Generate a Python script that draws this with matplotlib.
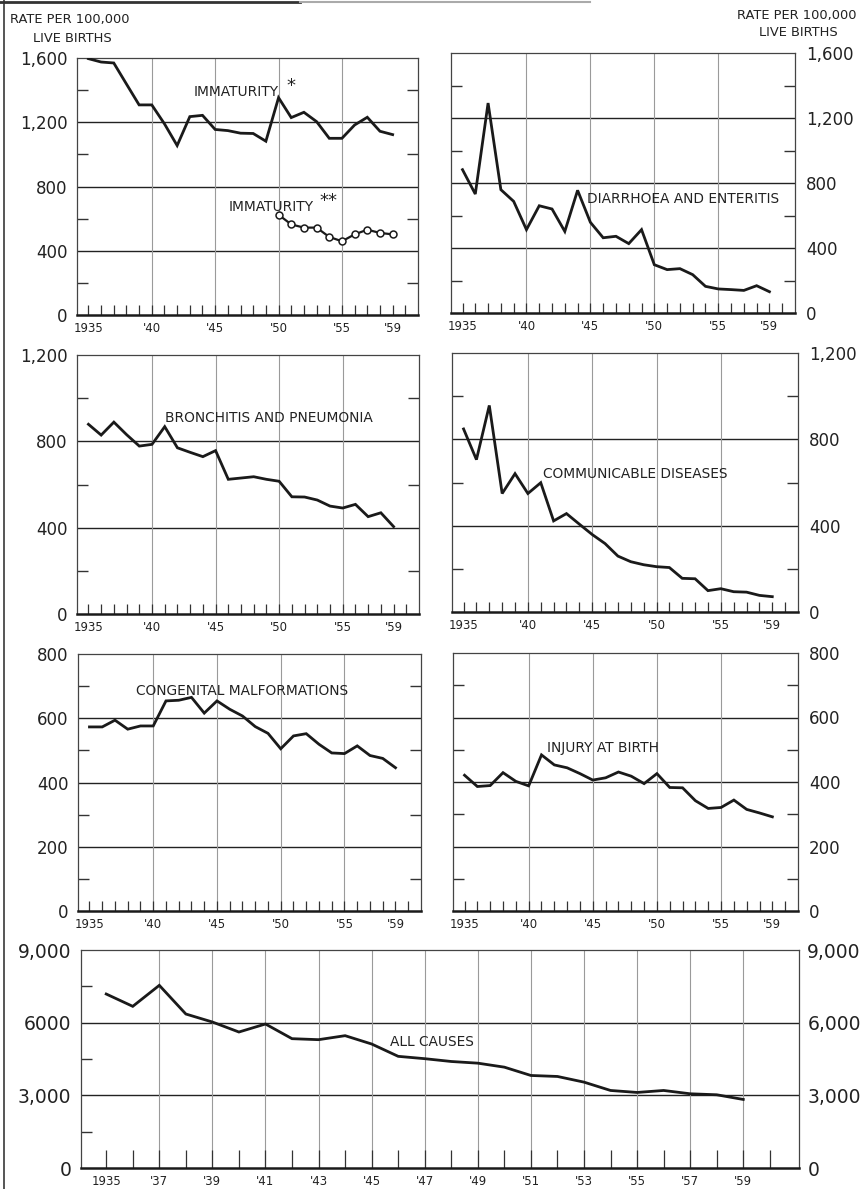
import matplotlib
matplotlib.use('Agg')
import matplotlib.pyplot as plt
from matplotlib.lines import Line2D

# ---------------- data ----------------
years = list(range(1935, 1960))
years_imm2 = list(range(1950, 1960))

immaturity = [1596, 1575, 1569, 1438, 1308, 1308, 1190, 1055, 1235, 1243, 1155, 1148, 1132,
              1130, 1082, 1353, 1229, 1262, 1204, 1100, 1100, 1183, 1231, 1144, 1123]
immaturity2 = [624, 564, 544, 544, 486, 459, 502, 531, 511, 502]
diarrhoea = [882, 732, 1292, 759, 687, 513, 660, 640, 502, 755, 558, 463, 472, 427, 513,
             297, 267, 273, 236, 164, 148, 144, 139, 168, 131]
bronchitis = [879, 829, 889, 831, 778, 786, 868, 770, 749, 729, 757, 624, 630, 636, 624,
              615, 543, 542, 528, 500, 491, 508, 451, 469, 405]
communicable = [848, 706, 957, 549, 641, 549, 599, 422, 456, 407, 359, 317, 259, 233, 219,
                210, 206, 156, 154, 99, 108, 94, 92, 77, 71]
congenital = [573, 573, 594, 566, 576, 576, 654, 656, 665, 616, 654, 628, 607, 574, 553,
              505, 545, 552, 519, 492, 490, 514, 484, 475, 446]
injury = [421, 386, 389, 429, 402, 388, 484, 453, 444, 426, 406, 413, 431, 418, 395,
          426, 383, 382, 342, 318, 321, 344, 315, 304, 292]
all_causes = [7183, 6674, 7541, 6357, 6027, 5614, 5945, 5339, 5298, 5463, 5119, 4610, 4513,
              4397, 4328, 4163, 3820, 3779, 3545, 3201, 3119, 3201, 3064, 3023, 2830]

xtick_years_small = [1935, 1940, 1945, 1950, 1955, 1959]
xtick_labels_small = ["1935", "'40", "'45", "'50", "'55", "'59"]
xtick_years_big = list(range(1935, 1960, 2))
xtick_labels_big = ["1935"] + ["'%02d" % (y % 100) for y in range(1937, 1960, 2)]

ticks_1600 = [0, 400, 800, 1200, 1600]
labels_1600 = ["0", "400", "800", "1,200", "1,600"]
ticks_1200 = [0, 400, 800, 1200]
labels_1200 = ["0", "400", "800", "1,200"]
ticks_800 = [0, 200, 400, 600, 800]
labels_800 = ["0", "200", "400", "600", "800"]
ticks_9000 = [0, 3000, 6000, 9000]
labels_9000_left = ["0", "3,000", "6000", "9,000"]
labels_9000_right = ["0", "3,000", "6,000", "9,000"]

# ---------------- figure ----------------
W, H = 863, 1189
fig = plt.figure(figsize=(W / 100, H / 100), dpi=100)
fig.patch.set_facecolor('white')

INK = '#1a1a1a'
FONT = 'DejaVu Sans'


def add_axes_px(x0, y0, x1, y1):
    return fig.add_axes([x0 / W, 1 - y1 / H, (x1 - x0) / W, (y1 - y0) / H])


def style_panel(ax, yticks, ylabels, ymax, minor_step, side, xlim,
                xt, xl, vgrid, tick_len, ylab_size):
    ax.set_xlim(*xlim)
    ax.set_ylim(0, ymax)
    for s in ['top', 'left', 'right']:
        ax.spines[s].set_color('#444444')
        ax.spines[s].set_linewidth(0.9)
    ax.spines['bottom'].set_color(INK)
    ax.spines['bottom'].set_linewidth(1.8)
    for v in yticks[1:-1]:
        ax.axhline(v, color='#222222', lw=1.0, zorder=1)
    for yv in vgrid:
        ax.axvline(yv, color='#9a9a9a', lw=0.8, zorder=1)
    ax.set_yticks(yticks)
    ax.set_yticklabels(ylabels, fontsize=ylab_size, color='#222222', family=FONT)
    ax.set_yticks([v + minor_step for v in yticks[:-1]], minor=True)
    ax.tick_params(axis='y', which='major', length=0, pad=7)
    ax.tick_params(axis='y', which='minor', direction='in', length=8, width=1.0,
                   color='#333333', left=True, right=True)
    if side == 'right':
        ax.tick_params(axis='y', which='major', labelleft=False, labelright=True,
                       left=False, right=False, pad=8)
    ax.set_xticks(xt)
    ax.set_xticklabels(xl, fontsize=8.5, color='#222222', family=FONT)
    ax.tick_params(axis='x', which='major', direction='in', length=tick_len, width=0.9,
                   color='#333333', pad=5)
    ax.tick_params(axis='x', which='minor', direction='in', length=tick_len, width=0.9,
                   color='#333333')


small_xlim = (1934.1, 1961.0)
minor_years = list(range(1935, 1961))
small_vgrid = [1940, 1945, 1950, 1955]

LINE_KW = dict(color=INK, lw=2.0, solid_joinstyle='miter', zorder=3)
LAB_KW = dict(fontsize=9.9, color='#222222', family=FONT, ha='left', va='center', zorder=4)
STAR_KW = dict(fontsize=13, color='#222222', family=FONT, ha='left', va='center')

# Panel 1: Immaturity
ax1 = add_axes_px(77, 58, 418, 315)
style_panel(ax1, ticks_1600, labels_1600, 1600, 200, 'left', small_xlim,
            xtick_years_small, xtick_labels_small, small_vgrid, 7, 12)
ax1.set_xticks(minor_years, minor=True)
ax1.plot(years, immaturity, **LINE_KW)
ax1.plot(years_imm2, immaturity2, color=INK, lw=1.6, marker='o', ms=5,
         markerfacecolor='white', markeredgecolor=INK, markeredgewidth=1.1, zorder=3)
ax1.text(1943.3, 1390, "IMMATURITY", **LAB_KW)
ax1.text(1950.6, 1428, "*", **STAR_KW)
ax1.text(1946.1, 673, "IMMATURITY", **LAB_KW)
ax1.text(1953.25, 710, "**", **STAR_KW)

# Panel 2: Diarrhoea
ax2 = add_axes_px(451, 53, 795, 313)
style_panel(ax2, ticks_1600, labels_1600, 1600, 200, 'right', small_xlim,
            xtick_years_small, xtick_labels_small, small_vgrid, 7, 12)
ax2.set_xticks(minor_years, minor=True)
ax2.plot(years, diarrhoea, **LINE_KW)
ax2.text(1944.7, 702, "DIARRHOEA AND ENTERITIS", **LAB_KW)

# Panel 3: Bronchitis
ax3 = add_axes_px(77, 355, 419, 614)
style_panel(ax3, ticks_1200, labels_1200, 1200, 200, 'left', small_xlim,
            xtick_years_small, xtick_labels_small, small_vgrid, 7, 12)
ax3.set_xticks(minor_years, minor=True)
ax3.plot(years, bronchitis, **LINE_KW)
ax3.text(1941.05, 908, "BRONCHITIS AND PNEUMONIA", **LAB_KW)

# Panel 4: Communicable
ax4 = add_axes_px(452, 353, 798, 612)
style_panel(ax4, ticks_1200, labels_1200, 1200, 200, 'right', small_xlim,
            xtick_years_small, xtick_labels_small, small_vgrid, 7, 12)
ax4.set_xticks(minor_years, minor=True)
ax4.plot(years, communicable, **LINE_KW)
ax4.text(1941.2, 639, "COMMUNICABLE DISEASES", **LAB_KW)

# Panel 5: Congenital
ax5 = add_axes_px(78, 654, 421, 911)
style_panel(ax5, ticks_800, labels_800, 800, 100, 'left', small_xlim,
            xtick_years_small, xtick_labels_small, small_vgrid, 7, 12)
ax5.set_xticks(minor_years, minor=True)
ax5.plot(years, congenital, **LINE_KW)
ax5.text(1938.65, 685, "CONGENITAL MALFORMATIONS", **LAB_KW)

# Panel 6: Injury at birth
ax6 = add_axes_px(453, 653, 798, 911)
style_panel(ax6, ticks_800, labels_800, 800, 100, 'right', small_xlim,
            xtick_years_small, xtick_labels_small, small_vgrid, 7, 12)
ax6.set_xticks(minor_years, minor=True)
ax6.plot(years, injury, **LINE_KW)
ax6.text(1941.4, 505, "INJURY AT BIRTH", **LAB_KW)

# Panel 7: All causes (labels on both sides)
ax7 = add_axes_px(81, 950, 799, 1168)
style_panel(ax7, ticks_9000, labels_9000_left, 9000, 1500, 'left', (1934.05, 1961.1),
            xtick_years_big, xtick_labels_big, list(range(1937, 1960, 2)), 13, 13.5)
ax7.set_xticks(list(range(1936, 1961, 2)), minor=True)
ax7.plot(years, all_causes, **LINE_KW)
ax7.text(1945.7, 5202, "ALL CAUSES", **LAB_KW)
ax7r = ax7.twinx()
ax7r.set_ylim(0, 9000)
ax7r.set_yticks(ticks_9000)
ax7r.set_yticklabels(labels_9000_right, fontsize=13.5, color='#222222', family=FONT)
ax7r.tick_params(axis='y', length=0, pad=6)
for s in ax7r.spines.values():
    s.set_visible(False)

# headers
HK = dict(fontsize=9.4, color='#222222', family=FONT, va='center')
fig.text(70 / W, 1 - 20 / H, "RATE PER 100,000", ha='center', **HK)
fig.text(72 / W, 1 - 38 / H, "LIVE BIRTHS", ha='center', **HK)
fig.text(797 / W, 1 - 15 / H, "RATE PER 100,000", ha='center', **HK)
fig.text(798 / W, 1 - 32 / H, "LIVE BIRTHS", ha='center', **HK)

# page border remnants
fig.add_artist(Line2D([3.5 / W, 3.5 / W], [0, 1], color='#555555', lw=1.4))
fig.add_artist(Line2D([0, 300 / W], [1 - 1.5 / H, 1 - 1.5 / H], color='#333333', lw=2.0))
fig.add_artist(Line2D([300 / W, 590 / W], [1 - 1.5 / H, 1 - 1.5 / H], color='#aaaaaa', lw=1.5))

fig.savefig('out.png', dpi=100, facecolor='white')
